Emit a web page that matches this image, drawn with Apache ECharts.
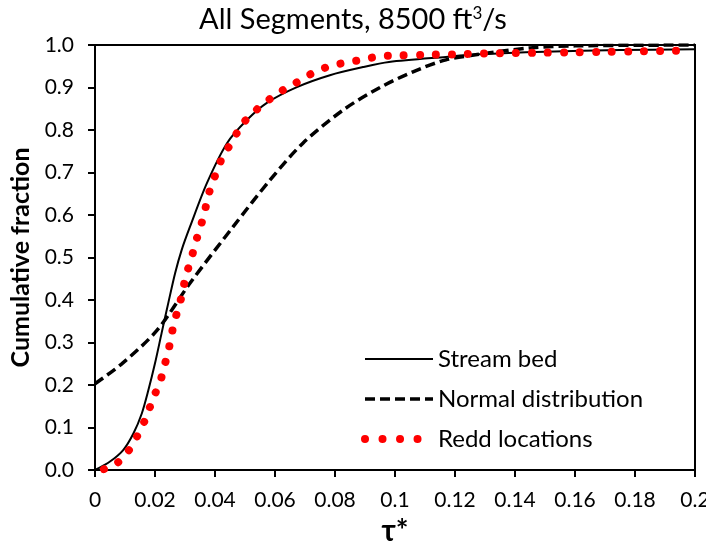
<!DOCTYPE html>
<html>
<head>
<meta charset="utf-8">
<script src="https://cdn.jsdelivr.net/npm/echarts@6/dist/echarts.min.js"></script>
<style>
  html, body { margin: 0; padding: 0; background: #fff; }
  #chart { width: 706px; height: 545px; }
</style>
</head>
<body>
<div id="chart"></div>
<script>
// 数据
var streamBed = [
  [0, 0], [0.005, 0.02], [0.0094, 0.047], [0.0128, 0.086], [0.0156, 0.133],
  [0.0178, 0.188], [0.02, 0.251], [0.0222, 0.322], [0.0244, 0.392], [0.0267, 0.463],
  [0.0289, 0.518], [0.0317, 0.573], [0.0373, 0.675], [0.044, 0.769], [0.0507, 0.824],
  [0.0573, 0.864], [0.0673, 0.901], [0.0783, 0.929], [0.0893, 0.948], [0.098, 0.96],
  [0.117, 0.972], [0.128, 0.978], [0.15, 0.984], [0.175, 0.988], [0.2, 0.99]
];
var normalDist = [
  [0, 0.203], [0.0093, 0.252], [0.0207, 0.329], [0.0317, 0.44], [0.046, 0.572],
  [0.0583, 0.682], [0.0693, 0.769], [0.0827, 0.847], [0.095, 0.9], [0.106, 0.937],
  [0.117, 0.965], [0.131, 0.981], [0.145, 0.993], [0.16, 0.998], [0.2, 1.0]
];
var reddLocations = [
  [0.003, 0.002], [0.0073, 0.016], [0.01, 0.035], [0.0127, 0.061], [0.0147, 0.089],
  [0.0167, 0.118], [0.0183, 0.148], [0.02, 0.179], [0.0217, 0.207], [0.023, 0.242],
  [0.0243, 0.275], [0.0253, 0.31], [0.0263, 0.344], [0.0277, 0.379], [0.029, 0.412],
  [0.03, 0.447], [0.0313, 0.48], [0.0327, 0.513], [0.034, 0.546], [0.0355, 0.58],
  [0.0367, 0.612], [0.0377, 0.645], [0.0393, 0.678], [0.041, 0.711], [0.0427, 0.739],
  [0.045, 0.765], [0.0473, 0.793], [0.0497, 0.819], [0.0527, 0.84], [0.056, 0.861],
  [0.0593, 0.878], [0.0627, 0.894], [0.067, 0.911], [0.0707, 0.927], [0.0747, 0.941],
  [0.0797, 0.953], [0.085, 0.96], [0.09, 0.967], [0.0953, 0.974], [0.1, 0.975],
  [0.11, 0.977], [0.12, 0.978], [0.13, 0.98], [0.14, 0.981], [0.15, 0.982],
  [0.16, 0.983], [0.17, 0.984], [0.18, 0.985], [0.19, 0.986], [0.196, 0.987]
];
var seriesNames = ["Stream bed", "Normal distribution", "Redd locations"];

var font = "Lato, 'Open Sans', sans-serif";
var chart = echarts.init(document.getElementById("chart"));
chart.setOption({
  animation: false,
  backgroundColor: "#fff",
  //标题
  title: {
    text: "All Segments, 8500 ft{sup|3}/s",
    left: "center",
    top: 0,
    textStyle: {
      fontFamily: font, fontSize: 29, fontWeight: "normal", color: "#000",
      rich: { sup: { fontFamily: font, fontSize: 17, color: "#000", verticalAlign: "top", padding: [0, 0, 12, 0] } }
    }
  },
  grid: {
    left: 95, right: 11, top: 45, bottom: 75,
    outerBoundsMode: "none",
    containLabel: false,
    show: true, borderColor: "#000", borderWidth: 2
  },
  //图例
  legend: {
    data: [
      seriesNames[0],
      seriesNames[1],
      { name: seriesNames[2], lineStyle: { type: [0.01, 17.5], cap: "round" } }
    ],
    orient: "vertical",
    left: 356,
    top: 342,
    itemWidth: 68,
    itemHeight: 14,
    itemGap: 16,
    itemStyle: { opacity: 0 },
    lineStyle: { width: "inherit" },
    textStyle: { fontFamily: font, fontSize: 24, color: "#000" }
  },
  xAxis: {
    type: "value",
    min: 0, max: 0.2, interval: 0.02,
    name: "τ*",
    nameLocation: "middle",
    nameGap: 38,
    nameTextStyle: { fontFamily: font, fontSize: 30, fontWeight: "bold", color: "#000" },
    axisLine: { lineStyle: { color: "#000", width: 2 } },
    axisTick: { inside: false, length: 7, lineStyle: { color: "#000", width: 2 } },
    axisLabel: { fontFamily: font, fontSize: 21, color: "#000", margin: 20 },
    splitLine: { show: false }
  },
  yAxis: {
    type: "value",
    min: 0, max: 1, interval: 0.1,
    name: "Cumulative fraction",
    nameLocation: "middle",
    nameGap: 61,
    nameTextStyle: { fontFamily: font, fontSize: 25, fontWeight: "bold", color: "#000" },
    axisLine: { show: true, lineStyle: { color: "#000", width: 2 } },
    axisTick: { show: true, inside: false, length: 7, lineStyle: { color: "#000", width: 2 } },
    axisLabel: {
      fontFamily: font, fontSize: 21, color: "#000", margin: 21,
      formatter: function (v) { return v.toFixed(1); }
    },
    splitLine: { show: false }
  },
  series: [
    {
      name: seriesNames[0], type: "line", data: streamBed, smooth: 0.3,
      symbol: "none", itemStyle: { color: "#000" },
      lineStyle: { color: "#000", width: 2 }, z: 3
    },
    {
      name: seriesNames[1], type: "line", data: normalDist, smooth: 0.3,
      symbol: "none", itemStyle: { color: "#000" },
      lineStyle: { color: "#000", width: 3.5, type: [10, 5] }, z: 2
    },
    {
      name: seriesNames[2], type: "line", data: reddLocations, smooth: 0.3,
      symbol: "none", itemStyle: { color: "#ff0000" },
      lineStyle: { color: "#ff0000", width: 8, type: [0.01, 16], cap: "round" }, z: 4
    }
  ]
});
</script>
</body>
</html>
